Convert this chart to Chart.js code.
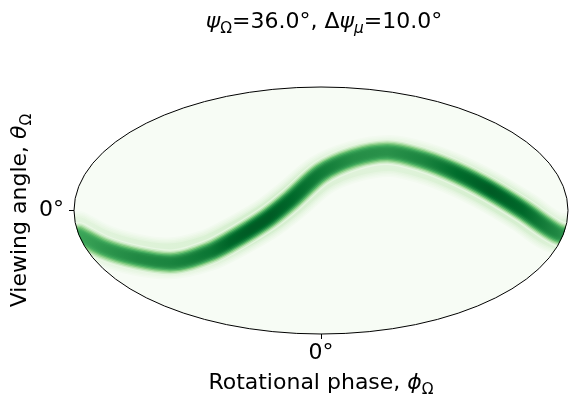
<!DOCTYPE html>
<html><head><meta charset="utf-8">
<script src="https://cdn.jsdelivr.net/npm/chart.js@4"></script>
<style>html,body{margin:0;padding:0;background:#fff}#wrap{width:578px;height:404px}</style>
</head><body><div id="wrap"><canvas id="c" width="578" height="404"></canvas></div>
<script>
// ---- data ----
// centre line of the band: rotational phase (deg) and viewing angle (deg)
const phaseDeg     = [-180, -164, -141, -117, -81, -64, -48, -34, -20, 0, 25, 53, 78, 98, 118, 141, 174, 180];
const angleDeg     = [-11.5, -18.8, -26.0, -30.4, -25.9, -20.0, -12.5, -4.2, 6.9, 24.8, 34.8, 38.2, 31.8, 22.6, 11.7, 0.3, -10.8, -11.5];
// centre of the faint outer glow (it sits on the inner side of the bends)
const glowAngleDeg = [-10.0, -17.0, -24.0, -28.0, -24.5, -19.0, -12.0, -4.2, 6.4, 23.3, 32.5, 35.5, 29.5, 20.8, 10.4, -0.5, -11.0, -11.0];
// relative density along the band
const intensity    = [0.7, 0.76, 0.82, 0.84, 0.9, 0.97, 1.0, 1.0, 0.96, 0.88, 0.8, 0.78, 0.84, 0.94, 1.0, 0.96, 0.82, 0.78];
const xTickValues = [0];
const xTickLabels = ['0°'];
const yTickValues = [0];
const yTickLabels = ['0°'];
const titleParts  = [['ψ','i'],['Ω','s'],['=36.0°, Δ','n'],['ψ','i'],['μ','is'],['=10.0°','n']];
const xTitleParts = [['Rotational phase, ','n'],['ϕ','i'],['Ω','s']];
const yTitleParts = [['Viewing angle, ','n'],['θ','i'],['Ω','s']];

// ---- Hammer projection ----
const S2 = Math.SQRT2;
function hammer(lonDeg, latDeg){
  const l = lonDeg*Math.PI/180, p = latDeg*Math.PI/180;
  const d = Math.sqrt(1 + Math.cos(p)*Math.cos(l/2));
  return {x: 2*S2*Math.cos(p)*Math.sin(l/2)/d, y: S2*Math.sin(p)/d};
}
const corePts = phaseDeg.map((ph,i)=>hammer(ph, angleDeg[i]));
const glowPts = phaseDeg.map((ph,i)=>hammer(ph, glowAngleDeg[i]));

// ---- Greens colormap ----
const greens = ['#f7fcf5','#e5f5e0','#c7e9c0','#a1d99b','#74c476','#41ab5d','#238b45','#006d2c','#00441b'];
const gRGB = greens.map(h=>[parseInt(h.slice(1,3),16),parseInt(h.slice(3,5),16),parseInt(h.slice(5,7),16)]);
function cmap(v){
  v = Math.max(0, Math.min(1, v));
  const f = v*(gRGB.length-1), i = Math.min(gRGB.length-2, Math.floor(f)), t = f-i;
  const a = gRGB[i], b = gRGB[i+1];
  return 'rgb('+a.map((c,k)=>Math.round(c+(b[k]-c)*t)).join(',')+')';
}

function gradientFor(level, pts){
  return (ctx)=>{
    const chart = ctx.chart, xs = chart.scales && chart.scales.x;
    if(!chart.chartArea || !xs) return cmap(level*intensity[0]);
    const L = 0, R = chart.width;
    const g = chart.ctx.createLinearGradient(L,0,R,0);
    pts.forEach((p,i)=>{
      const px = xs.getPixelForValue(p.x);
      g.addColorStop(Math.max(0,Math.min(1,(px-L)/(R-L))), cmap(level*intensity[i]));
    });
    return g;
  };
}

// band layers (style only)
const glowLayers = [[42,0.035],[39,0.07],[36,0.11],[33,0.15],[30,0.19]];
const coreWidths = [26,23.5,21,18.5,16,13.5,11,8.5,6,3.5];
const d0 = 11, peak = 0.93;
const datasets = [];
let ord = 100;
function layer(pts, w, level){
  datasets.push({
    type:'line', data:pts, borderWidth:w,
    borderCapStyle:'round', borderJoinStyle:'round',
    pointRadius:0, cubicInterpolationMode:'monotone', fill:false,
    order: ord--, borderColor: gradientFor(level, pts)
  });
}
glowLayers.forEach(([w,l])=>layer(glowPts, w, l));
coreWidths.forEach(w=>layer(corePts, w, peak*Math.exp(-Math.pow((w/2)/d0,4))));

const FAM = "'DejaVu Sans'";
function drawRich(ctx, parts, size, x, y, rotate){
  ctx.save();
  const items = parts.map(p=>{
    const sub = p[1].includes('s'), it = p[1].includes('i');
    const s = sub ? size*0.7 : size;
    return {t:p[0], font:(it?'italic ':'')+s+'px '+FAM, dy: sub ? size*0.22 : 0};
  });
  let total = 0;
  items.forEach(o=>{ctx.font=o.font; o.w=ctx.measureText(o.t).width; total+=o.w;});
  ctx.translate(x,y);
  if(rotate) ctx.rotate(-Math.PI/2);
  ctx.textBaseline='alphabetic'; ctx.textAlign='left'; ctx.fillStyle='#000';
  let cx = -total/2;
  items.forEach(o=>{ctx.font=o.font; ctx.fillText(o.t, cx, o.dy); cx+=o.w;});
  ctx.restore();
}

function ellipsePath(chart){
  const {ctx, scales} = chart;
  const x0 = scales.x.getPixelForValue(-2*S2), x1 = scales.x.getPixelForValue(2*S2);
  const y0 = scales.y.getPixelForValue(S2), y1 = scales.y.getPixelForValue(-S2);
  ctx.beginPath();
  ctx.ellipse((x0+x1)/2,(y0+y1)/2,(x1-x0)/2,(y1-y0)/2,0,0,2*Math.PI);
}

const ellipsePlugin = {
  id:'ellipseFrame',
  beforeDatasetsDraw(chart){
    const ctx = chart.ctx;
    ctx.save();
    ellipsePath(chart);
    ctx.fillStyle = greens[0];
    ctx.fill();
    ctx.clip();
  },
  afterDatasetsDraw(chart){
    const ctx = chart.ctx;
    ctx.restore();
    ctx.save();
    ellipsePath(chart);
    ctx.strokeStyle='#000'; ctx.lineWidth=1; ctx.stroke();
    ctx.restore();
  },
  afterDraw(chart){
    const {ctx, chartArea:a} = chart;
    drawRich(ctx, titleParts, 22, 324, 28, false);
    drawRich(ctx, xTitleParts, 22, (a.left+a.right)/2, 389, false);
    drawRich(ctx, yTitleParts, 22, 26, (a.top+a.bottom)/2, true);
  }
};

const tickFont = {family:"DejaVu Sans", size:22};
new Chart(document.getElementById('c'), {
  type:'line',
  data:{datasets},
  options:{
    responsive:false,
    animation:false,
    events:[],
    layout:{padding:{left:0, right:10, top:87, bottom:0}},
    plugins:{legend:{display:false}, tooltip:{enabled:false}, title:{display:false}},
    scales:{
      x:{
        type:'linear', min:-2*S2, max:2*S2,
        afterBuildTicks(s){ s.ticks = xTickValues.map(v=>({value:v})); },
        afterFit(s){ s.height = 70; },
        ticks:{ callback:(v,i)=>xTickLabels[i], font:tickFont, color:'#000', padding:1, maxRotation:0 },
        grid:{ display:true, drawOnChartArea:false, drawTicks:true, tickLength:5, tickColor:'#000', tickWidth:1 },
        border:{ display:false }
      },
      y:{
        type:'linear', min:-S2, max:S2,
        afterBuildTicks(s){ s.ticks = yTickValues.map(v=>({value:v})); },
        afterFit(s){ s.width = 74; },
        ticks:{ callback:(v,i)=>yTickLabels[i], font:tickFont, color:'#000', padding:5 },
        grid:{ display:true, drawOnChartArea:false, drawTicks:true, tickLength:5, tickColor:'#000', tickWidth:1 },
        border:{ display:false }
      }
    }
  },
  plugins:[ellipsePlugin]
});
</script>
</body></html>
